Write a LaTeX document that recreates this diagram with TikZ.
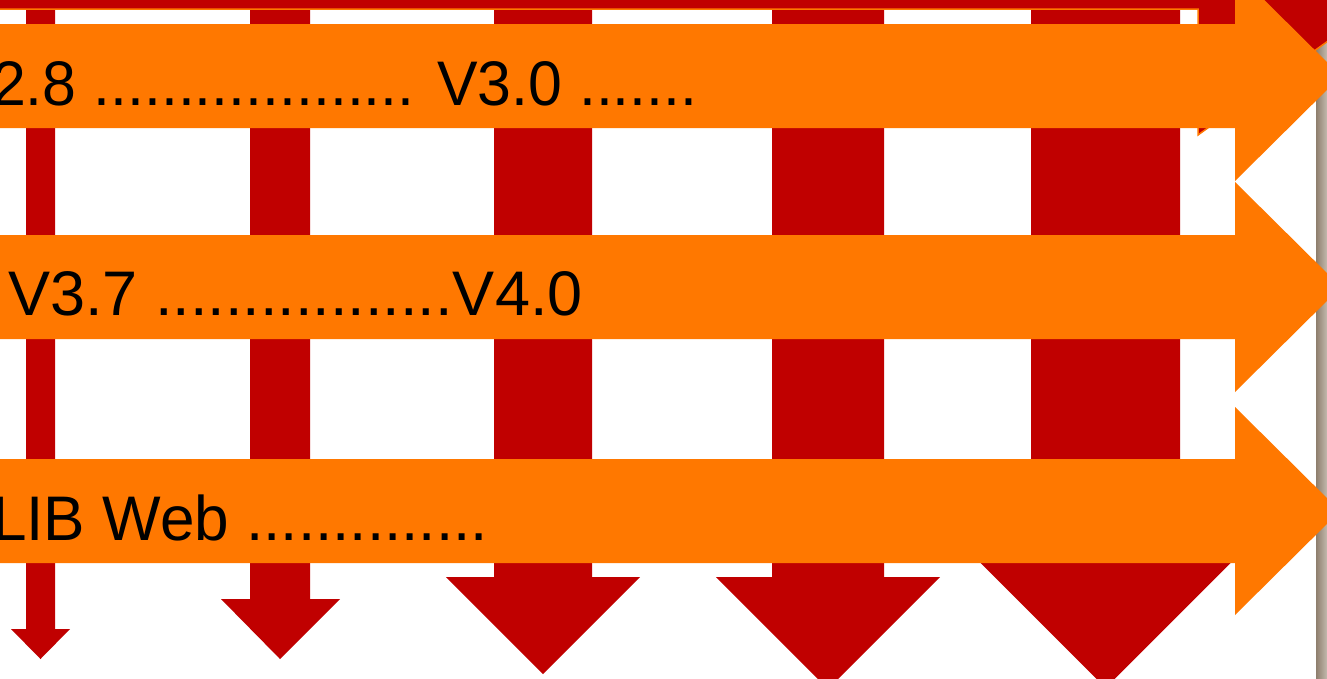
\documentclass[tikz,border=0pt]{standalone}
\usepackage{fontspec}
\setmainfont{Liberation Sans}
\definecolor{arrred}{HTML}{C00000}
\definecolor{arrorange}{HTML}{FF7800}
\definecolor{bargrayL}{HTML}{8E7E6D}
\definecolor{bargrayR}{HTML}{C4BAAE}
\tikzset{
  redarrow/.style={fill=arrred, draw=none},
  orangearrow/.style={fill=arrorange, draw=none},
  toparrow/.style={fill=arrred, draw=arrorange, line width=1.5pt},
  label/.style={anchor=base west, inner sep=0pt, text=black, font=\fontsize{63}{63}\selectfont}
}
\begin{document}
\begin{tikzpicture}[x=1pt, y=-1pt]
\useasboundingbox (0,0) rectangle (1327,678);
\clip (0,0) rectangle (1327,678);
\fill[white] (0,0) rectangle (1327,678);
% right grey edge
\shade[left color=bargrayL, right color=bargrayR] (1316,0) rectangle (1327,678);
% vertical red arrows
\path[redarrow] (26,9) -- (55,9) -- (55,629) -- (70,629) -- (40.5,659) -- (11,629) -- (26,629) -- cycle;
\path[redarrow] (250,9) -- (310,9) -- (310,599) -- (340,599) -- (280,659) -- (221,599) -- (250,599) -- cycle;
\path[redarrow] (494,9) -- (592,9) -- (592,577) -- (640,577) -- (543,674) -- (446,577) -- (494,577) -- cycle;
\path[redarrow] (772,9) -- (884,9) -- (884,577) -- (940,577) -- (828,689) -- (716,577) -- (772,577) -- cycle;
\path[redarrow] (1031,9) -- (1180,9) -- (1180,563) -- (1230.5,563) -- (1105.5,688) -- (980.5,563) -- (1031,563) -- cycle;
% top red arrow (mostly off the picture)
\path[toparrow] (-20,-100) -- (1198,-100) -- (1198,-250) -- (1440,-40) -- (1198,135) -- (1198,9) -- (-20,9) -- cycle;
% orange horizontal arrows
\path[orangearrow] (-20,24) -- (1235,24) -- (1235,-29) -- (1341,76) -- (1235,181) -- (1235,128) -- (-20,128) -- cycle;
\path[orangearrow] (-20,235) -- (1235,235) -- (1235,182) -- (1341,287) -- (1235,392) -- (1235,339) -- (-20,339) -- cycle;
\path[orangearrow] (-20,459) -- (1235,459) -- (1235,407) -- (1340,511) -- (1235,615) -- (1235,563) -- (-20,563) -- cycle;
% texts
\node[label, xscale=0.965] (t1) at (-8,105) {2.8 ................... V3.0 .......};
\node[label] (t2) at (8,315) {V3.7 .................V4.0};
\node[label, xscale=0.985] (t3) at (-8,540) {LIB Web ..............};
\end{tikzpicture}
\end{document}
